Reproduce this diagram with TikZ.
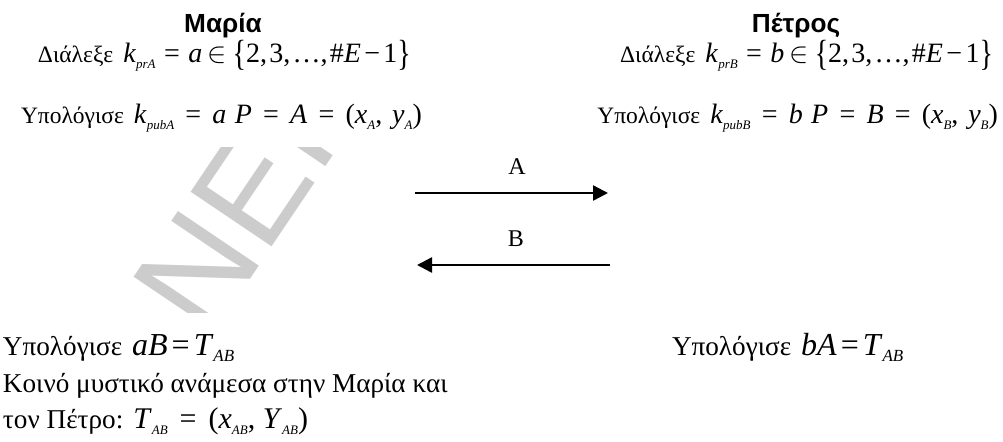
\documentclass[tikz,border=0pt]{standalone}
\usepackage{fontspec}
\usepackage{graphicx}
\setmainfont{Liberation Serif}
\newfontfamily\headfont{Liberation Sans}
\usetikzlibrary{arrows.meta}

% italic variables, small low subscripts and roomy relations, equation-editor style
\newcommand\iv[1]{\textit{#1}}
\newcommand\sbx[1]{\raisebox{-3pt}{\fontsize{6.5}{7}\selectfont\textit{#1}}}
\newcommand\sbl[1]{\raisebox{-3.4pt}{\fontsize{8.5}{9}\selectfont\textit{#1}}}
\newcommand\eqs{\hspace{0.3em}=\hspace{0.3em}}
\newcommand\eqw{\hspace{0.4em}=\hspace{0.4em}}
\newcommand\eqf{\fontsize{14}{16}\selectfont}
\newcommand\bl{\raisebox{-0.12em}{\scalebox{1}[1.3]{\{}}}
\newcommand\br{\raisebox{-0.12em}{\scalebox{1}[1.3]{\}}}}
\newcommand\cm{,\hspace{0.08em}}

\begin{document}
\begin{tikzpicture}[x=0.5pt,y=-0.5pt,
  every node/.style={inner sep=0pt,outer sep=0pt},
  head/.style={font=\headfont\bfseries\fontsize{13.1}{15}\selectfont, anchor=base},
  upper/.style={font=\fontsize{11.75}{14}\selectfont, anchor=base west},
  upperr/.style={font=\fontsize{11.75}{14}\selectfont, anchor=base east},
  lower/.style={font=\fontsize{13.6}{16}\selectfont, anchor=base west},
  msg/.style={line width=1.2pt,-{Triangle[length=7.5pt,width=7.5pt]}},
  tag/.style={font=\fontsize{12}{14}\selectfont, anchor=base},
  wm/.style={font=\headfont\fontsize{71}{80}\selectfont, text=black!20, rotate=56, anchor=base west}
]
\useasboundingbox (0,0) rectangle (1003,441);

% faint watermark, visible only between the text blocks
\begin{scope}
  \clip (0,147) rectangle (400,312);
  \node[wm] (mark) at (208,341) {ΝΕΙ};
\end{scope}

% Maria's side
\node[head] (maria) at (223,32) {Μαρία};
\node[upper] (mchoose) at (38,62)
  {Διάλεξε\hspace{5pt}{\eqf\iv{k}\sbx{prA}\eqs\iv{a}\hspace{0.2em}$\in$\hspace{0.2em}\bl 2\cm 3\cm …\cm\#\iv{E}\hspace{0.12em}−\hspace{0.12em}1\br}};
\node[upper] (mcalc) at (21,123)
  {Υπολόγισε\hspace{5pt}{\eqf\iv{k}\sbx{pubA}\eqw\iv{a}\hspace{0.3em}\iv{P}\eqw\iv{A}\eqw(\iv{x}\sbx{A},\hspace{0.35em}\iv{y}\sbx{A})}};

% Petros's side
\node[head] (petros) at (796,32) {Πέτρος};
\node[upperr] (pchoose) at (993,62)
  {Διάλεξε\hspace{5pt}{\eqf\iv{k}\sbx{prB}\eqs\iv{b}\hspace{0.2em}$\in$\hspace{0.2em}\bl 2\cm 3\cm …\cm\#\iv{E}\hspace{0.12em}−\hspace{0.12em}1\br}};
\node[upperr] (pcalc) at (998,123)
  {Υπολόγισε\hspace{5pt}{\eqf\iv{k}\sbx{pubB}\eqw\iv{b}\hspace{0.3em}\iv{P}\eqw\iv{B}\eqw(\iv{x}\sbx{B},\hspace{0.35em}\iv{y}\sbx{B})}};

% exchanged public keys
\coordinate (aS) at (415,193);
\coordinate (aE) at (608,193);
\coordinate (bS) at (610,265);
\coordinate (bE) at (417,265);
\draw[msg] (aS) -- (aE);
\draw[msg] (bS) -- (bE);
\node[tag] (la) at (517,174) {A};
\node[tag] (lb) at (516,246) {B};

% shared secret
\node[lower] (mres) at (3,355)
  {Υπολόγισε\hspace{5pt}{\fontsize{16}{18}\selectfont\iv{aB}\hspace{2pt}=\hspace{2pt}\iv{T}\sbl{AB}}};
\node[lower] (shared1) at (3,392) {Κοινό μυστικό ανάμεσα στην Μαρία και};
\node[lower] (shared2) at (3,428)
  {τον Πέτρο:\hspace{5pt}{\fontsize{15}{17}\selectfont\iv{T}\sbx{AB}\eqw(\iv{x}\sbx{AB},\hspace{0.25em}\iv{Y}\sbx{AB})}};
\node[lower] (pres) at (672,355)
  {Υπολόγισε\hspace{5pt}{\fontsize{16}{18}\selectfont\iv{bA}\hspace{2pt}=\hspace{2pt}\iv{T}\sbl{AB}}};
\end{tikzpicture}
\end{document}
